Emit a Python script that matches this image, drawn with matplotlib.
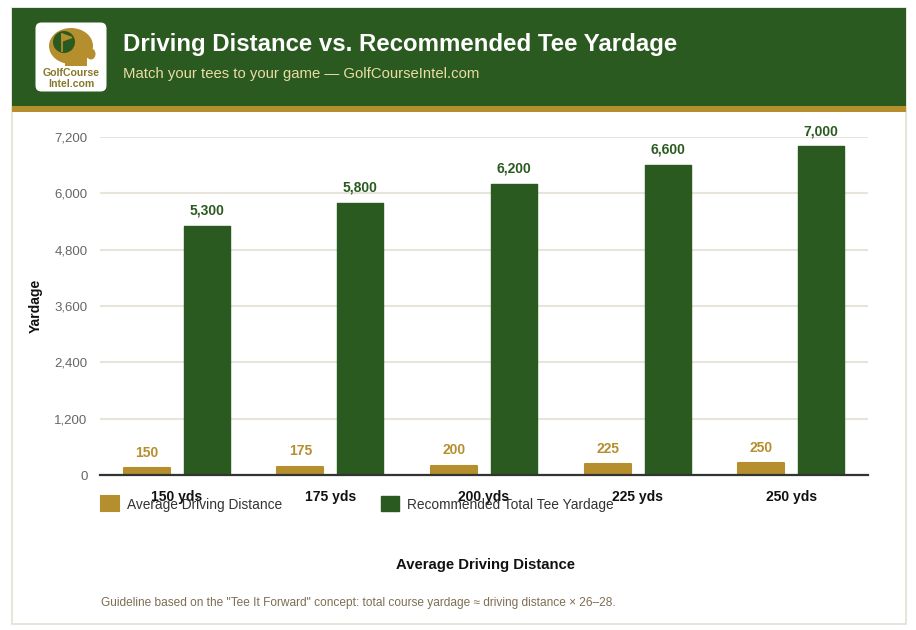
import matplotlib
matplotlib.use("Agg")
import matplotlib.pyplot as plt
from matplotlib.patches import Rectangle, FancyBboxPatch, Ellipse, Circle
import numpy as np

plt.rcParams['font.family'] = ['Liberation Sans', 'DejaVu Sans']

categories = ["150 yds", "175 yds", "200 yds", "225 yds", "250 yds"]
avg_drive = [150, 175, 200, 225, 250]
tee_yardage = [5300, 5800, 6200, 6600, 7000]
yticks = [0, 1200, 2400, 3600, 4800, 6000, 7200]

GREEN = "#2A5A1F"
GOLD = "#B58E2E"
W, H = 916, 630

fig = plt.figure(figsize=(W / 100, H / 100), dpi=100)
fig.patch.set_facecolor("white")

def fx(x):
    return x / W

def fy(y):
    return 1 - y / H

# card border
fig.add_artist(Rectangle((fx(12), fy(624)), fx(906) - fx(12), fy(8) - fy(624),
                         transform=fig.transFigure, facecolor="white",
                         edgecolor="#E3DFD3", linewidth=1.2, zorder=0))
# header
fig.add_artist(Rectangle((fx(12), fy(106)), fx(906) - fx(12), fy(8) - fy(106),
                         transform=fig.transFigure, facecolor=GREEN, edgecolor="none", zorder=1))
fig.add_artist(Rectangle((fx(12), fy(112)), fx(906) - fx(12), fy(106) - fy(112),
                         transform=fig.transFigure, facecolor=GOLD, edgecolor="none", zorder=1))

# logo
lax = fig.add_axes([fx(35), fy(92), fx(107) - fx(35), fy(22) - fy(92)], zorder=5)
lax.set_xlim(0, 72)
lax.set_ylim(70, 0)
lax.axis("off")
lax.patch.set_alpha(0)
lax.add_patch(FancyBboxPatch((0.5, 0.5), 71, 69, boxstyle="round,pad=0,rounding_size=6",
                             facecolor="white", edgecolor="none"))
lax.add_patch(Ellipse((36, 24), 44, 36, facecolor=GOLD, edgecolor="none"))
lax.add_patch(Rectangle((30, 34), 22, 10, facecolor=GOLD, edgecolor="none"))
lax.add_patch(Ellipse((56, 32), 9, 11, facecolor=GOLD, edgecolor="none"))
lax.add_patch(Circle((29, 20), 11, facecolor=GREEN, edgecolor="none"))
lax.plot([27, 27], [12, 29], color=GOLD, lw=1.3)
lax.fill([27, 37, 27], [12, 15.5, 19], color=GOLD)
lax.text(36, 51, "GolfCourse", ha="center", va="center", fontsize=7.6, fontweight="bold",
         color="#86782C", family=["Liberation Sans Narrow", "Liberation Sans"])
lax.text(36, 62, "Intel.com", ha="center", va="center", fontsize=7.6, fontweight="bold",
         color="#86782C", family=["Liberation Sans Narrow", "Liberation Sans"])

fig.text(fx(123), fy(44), "Driving Distance vs. Recommended Tee Yardage", color="white",
         fontsize=17.3, fontweight="bold", ha="left", va="center")
fig.text(fx(123), fy(74), "Match your tees to your game \u2014 GolfCourseIntel.com", color="#E9DCA8",
         fontsize=10.7, ha="left", va="center")

# main axes
ax = fig.add_axes([fx(100), fy(475), fx(868) - fx(100), fy(137) - fy(475)])
x = np.arange(len(categories))
bw = 0.30
off = 0.195
b1 = ax.bar(x - off, avg_drive, bw, color=GOLD, edgecolor=GOLD, linewidth=1.5,
            joinstyle="round", zorder=3, label="Average Driving Distance")
b2 = ax.bar(x + off, tee_yardage, bw, color=GREEN, edgecolor=GREEN, linewidth=1,
            joinstyle="round", zorder=3, label="Recommended Total Tee Yardage")

for rect, v in zip(b1, avg_drive):
    ax.annotate(f"{v:,}", (rect.get_x() + rect.get_width() / 2, v), xytext=(0, 6),
                textcoords="offset points", ha="center", va="bottom", fontsize=10,
                fontweight="bold", color=GOLD, annotation_clip=False)
for rect, v in zip(b2, tee_yardage):
    ax.annotate(f"{v:,}", (rect.get_x() + rect.get_width() / 2, v), xytext=(0, 6),
                textcoords="offset points", ha="center", va="bottom", fontsize=10,
                fontweight="bold", color=GREEN, annotation_clip=False)

ax.set_xlim(-0.5, len(categories) - 0.5)
ax.set_ylim(0, 7200)
ax.set_yticks(yticks)
ax.set_yticklabels([f"{t:,}" for t in yticks])
ax.grid(axis="y", color="#E8E4DA", linewidth=1.5, zorder=0)
ax.set_axisbelow(True)
for s in ["top", "right", "left"]:
    ax.spines[s].set_visible(False)
ax.spines["bottom"].set_color("#333333")
ax.spines["bottom"].set_linewidth(1.6)
ax.spines["bottom"].set_zorder(4)
ax.tick_params(axis="y", length=0, pad=9, labelsize=9.5, labelcolor="#666666")
ax.set_xticks(x)
ax.set_xticklabels(categories, fontsize=10, fontweight="bold", color="#111111")
ax.tick_params(axis="x", length=0, pad=11)

ax.set_ylabel("Yardage", fontsize=10, fontweight="bold", color="#111111", labelpad=8)
fig.text(fx(485), fy(565), "Average Driving Distance", fontsize=10.7, fontweight="bold",
         color="#111111", ha="center", va="center")

leg = fig.legend(handles=[b1, b2], loc="center left", bbox_to_anchor=(fx(101), fy(504)),
                 ncol=2, frameon=False, fontsize=9.9, handlelength=1.3, handleheight=1.3,
                 columnspacing=7.2, handletextpad=0.6, labelcolor="#333333",
                 borderpad=0, borderaxespad=0)

fig.text(fx(101), fy(603),
         "Guideline based on the \"Tee It Forward\" concept: total course yardage \u2248 driving distance \u00d7 26\u201328.",
         fontsize=8.6, color="#7D6E55", ha="left", va="center")

fig.savefig("out.png", dpi=100)
